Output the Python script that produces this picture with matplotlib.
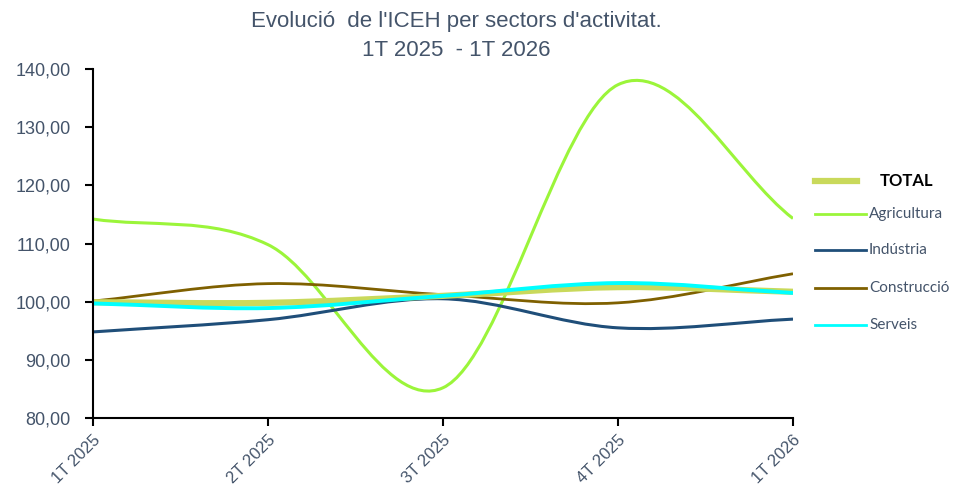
import numpy as np
import matplotlib.pyplot as plt
from matplotlib.path import Path
from matplotlib.patches import PathPatch
from matplotlib.lines import Line2D
from matplotlib import font_manager

# Data
quarters = ['1T 2025', '2T 2025', '3T 2025', '4T 2025', '1T 2026']
total = [99.9, 99.8, 101.0, 102.5, 101.7]
agricultura = [114.2, 109.8, 85.2, 137.3, 114.3]
industria = [94.8, 96.9, 100.5, 95.5, 97.0]
construccio = [100.1, 103.1, 101.2, 99.8, 104.8]
serveis = [99.7, 98.9, 101.0, 103.2, 101.5]

names = ['TOTAL', 'Agricultura', 'Indústria', 'Construcció', 'Serveis']
colors = ['#C9D95B', '#9BF53A', '#1F4E79', '#7F6000', '#00FFFF']
widths = [4.5, 2.2, 2.2, 2.0, 2.8]

names_avail = {f.name for f in font_manager.fontManager.ttflist}
narrow = 'Liberation Sans Narrow' if 'Liberation Sans Narrow' in names_avail else 'Liberation Sans'
txt_col = '#44546A'


def smooth_path(y):
    # Excel-like smoothed line: cubic Bezier through every data point
    x = np.arange(len(y), dtype=float)
    y = np.asarray(y, dtype=float)
    n = len(y)
    t = np.zeros(n)
    for i in range(n):
        if i == 0:
            t[i] = (y[1] - y[0])
        elif i == n - 1:
            t[i] = (y[-1] - y[-2])
        else:
            t[i] = (y[i + 1] - y[i - 1]) / 2
    verts = [(x[0], y[0])]
    codes = [Path.MOVETO]
    for i in range(n - 1):
        verts += [(x[i] + 1/3, y[i] + t[i] / 3),
                  (x[i + 1] - 1/3, y[i + 1] - t[i + 1] / 3),
                  (x[i + 1], y[i + 1])]
        codes += [Path.CURVE4] * 3
    return Path(verts, codes)


fig = plt.figure(figsize=(9.54, 4.88), dpi=100)
ax = fig.add_axes([93/954, 1 - 418/488, 700/954, 349/488])

series = [total, agricultura, industria, construccio, serveis]
order = [1, 2, 3, 0, 4]
for k in order:
    p = PathPatch(smooth_path(series[k]), facecolor='none', edgecolor=colors[k],
                  lw=widths[k], capstyle='butt', joinstyle='round')
    ax.add_patch(p)

ax.set_xlim(0, len(quarters) - 1)
ax.set_ylim(80, 140)
ax.set_yticks(np.arange(80, 141, 10))
ax.set_yticklabels([f'{v:.2f}'.replace('.', ',') for v in np.arange(80, 141, 10)],
                   fontsize=13, color=txt_col, family=narrow)
ax.set_xticks(range(len(quarters)))
ax.set_xticklabels(quarters, rotation=45, ha='right', rotation_mode='anchor',
                   fontsize=12, color=txt_col, family=narrow)
for s in ['top', 'right']:
    ax.spines[s].set_visible(False)
for s in ['left', 'bottom']:
    ax.spines[s].set_color('black')
    ax.spines[s].set_linewidth(1.5)
ax.tick_params(axis='both', direction='out', length=6, width=1.5, color='black')
ax.tick_params(axis='y', pad=10)
ax.tick_params(axis='x', pad=4)

fig.text(456/954, 1 - 22/488, "Evolució  de l'ICEH per sectors d'activitat.", ha='center',
         va='center', fontsize=16, color=txt_col, family=narrow)
fig.text(456/954, 1 - 50/488, "1T 2025  - 1T 2026", ha='center', va='center',
         fontsize=16, color=txt_col, family=narrow)

# legend
leg_y = [181, 214, 250, 288, 325]
for k in range(5):
    yy = 1 - leg_y[k] / 488
    if k == 0:
        fig.add_artist(Line2D([815/954, 857/954], [yy, yy], color=colors[k], lw=4.5,
                              transform=fig.transFigure))
        fig.text(880/954, yy, names[k], ha='left', va='center', fontsize=12,
                 fontweight='bold', color='black', family='Lato')
    else:
        fig.add_artist(Line2D([815/954, 866/954], [yy, yy], color=colors[k], lw=2,
                              transform=fig.transFigure))
        fig.text(869/954, yy, names[k], ha='left', va='center', fontsize=11,
                 color=txt_col, family='Lato')

fig.savefig('out.png', dpi=100)
